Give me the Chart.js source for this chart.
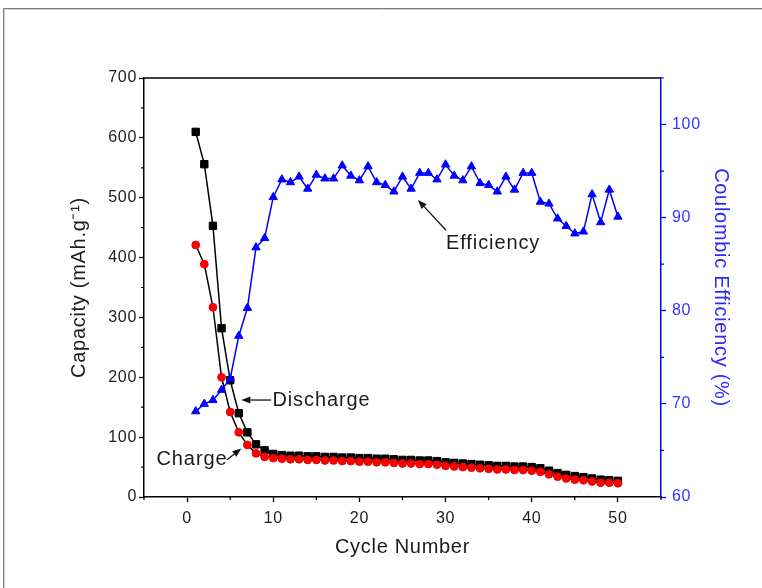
<!DOCTYPE html>
<html>
<head>
<meta charset="utf-8">
<script src="https://cdn.jsdelivr.net/npm/chart.js@4.4.1/dist/chart.umd.min.js"></script>
<style>
  html, body { margin: 0; padding: 0; background: #fff; }
  canvas { display: block; }
</style>
</head>
<body>
<canvas id="capacity-chart" width="762" height="588"></canvas>
<script>
// values
var cycles = [
  1, 2, 3, 4, 5, 6, 7, 8, 9, 10,
  11, 12, 13, 14, 15, 16, 17, 18, 19, 20,
  21, 22, 23, 24, 25, 26, 27, 28, 29, 30,
  31, 32, 33, 34, 35, 36, 37, 38, 39, 40,
  41, 42, 43, 44, 45, 46, 47, 48, 49, 50
];
var dischargeCapacity = [
  610, 556, 453, 282, 195, 140, 108, 88, 78, 72,
  70, 69, 69, 68, 68, 67, 67, 66, 66, 65,
  65, 64, 64, 63, 62, 62, 61, 61, 60, 58,
  57, 56, 55, 54, 53, 52, 52, 51, 51, 50,
  48, 44, 40, 37, 35, 33, 31, 29, 28, 27
];
var chargeCapacity = [
  421, 389, 317, 200, 142, 108, 87, 73, 67, 65,
  64, 63, 63, 62, 62, 61, 61, 60, 60, 59,
  59, 58, 58, 57, 56, 56, 55, 55, 54, 52,
  51, 50, 49, 48, 47, 46, 46, 45, 45, 44,
  42, 38, 34, 31, 29, 28, 26, 24, 24, 23
];
var coulombicEfficiency = [
  69.2, 70.0, 70.4, 71.5, 72.7, 77.3, 80.3, 86.8, 87.8, 92.2,
  94.1, 93.8, 94.4, 93.1, 94.6, 94.2, 94.2, 95.6, 94.5, 94.0,
  95.5, 93.8, 93.5, 92.8, 94.4, 93.1, 94.8, 94.8, 94.1, 95.7,
  94.5, 94.0, 95.5, 93.7, 93.5, 92.8, 94.4, 93.0, 94.8, 94.8,
  91.7, 91.5, 89.9, 89.1, 88.3, 88.5, 92.5, 89.5, 93.0, 90.1
];

var xTicks = [0, 10, 20, 30, 40, 50];
var xMinorTicks = [-5, 5, 15, 25, 35, 45, 55];
var capacityTicks = [0, 100, 200, 300, 400, 500, 600, 700];
var capacityMinorTicks = [50, 150, 250, 350, 450, 550, 650];
var efficiencyTicks = [60, 70, 80, 90, 100];
var efficiencyMinorTicks = [65, 75, 85, 95, 105];

var FONT = 'Arial, "Liberation Sans", sans-serif';
var BLUE = '#0000ff';
var TEXT = '#1c1c1c';

// callouts, placed in data units so they follow the scales
var notes = [
  { text: 'Discharge', axis: 'y', at: [9.9, 162], from: [9.75, 162], to: [6.3, 162] },
  { text: 'Charge', axis: 'y', at: [-3.55, 62], from: [4.6, 62], to: [6.3, 81] },
  { text: 'Efficiency', axis: 'y2', at: [30.05, 87.25], from: [30.05, 88.65], to: [26.8, 91.9] }
];

function toPoints(values) {
  return cycles.map(function(c, i) {
    return { x: c, y: values[i] };
  });
}

function setTicks(values) {
  return function(scale) {
    scale.ticks = values.map(function(v) { return { value: v }; });
  };
}

function drawArrow(ctx, x1, y1, x2, y2) {
  var a = Math.atan2(y2 - y1, x2 - x1);
  var head = 9, half = 3.5;
  var bx = x2 - Math.cos(a) * head, by = y2 - Math.sin(a) * head;
  ctx.beginPath();
  ctx.moveTo(x1, y1);
  ctx.lineTo(bx, by);
  ctx.stroke();
  ctx.beginPath();
  ctx.moveTo(x2, y2);
  ctx.lineTo(bx + Math.sin(a) * half, by - Math.cos(a) * half);
  ctx.lineTo(bx - Math.sin(a) * half, by + Math.cos(a) * half);
  ctx.closePath();
  ctx.fill();
}

var framePlugin = {
  id: 'frame',
  beforeDraw: function(chart) {
    var ctx = chart.ctx;
    // the original text is set a little loose
    ctx.letterSpacing = '0.7px';
    ctx.save();
    ctx.fillStyle = '#fff';
    ctx.fillRect(0, 0, chart.width, chart.height);
    ctx.lineWidth = 1;
    ctx.strokeStyle = '#7c7c7c';
    ctx.beginPath();
    ctx.moveTo(3.5, chart.height);
    ctx.lineTo(3.5, 8.5);
    ctx.lineTo(chart.width, 8.5);
    ctx.stroke();
    ctx.strokeStyle = '#d4d4d4';
    ctx.beginPath();
    ctx.moveTo(4.5, chart.height);
    ctx.lineTo(4.5, 9.5);
    ctx.lineTo(chart.width, 9.5);
    ctx.stroke();
    ctx.restore();
  }
};

var extrasPlugin = {
  id: 'extras',
  afterDraw: function(chart) {
    var ctx = chart.ctx;
    var area = chart.chartArea;
    var sx = chart.scales.x, sy = chart.scales.y, sy2 = chart.scales.y2;
    ctx.save();
    // top edge of the box
    ctx.strokeStyle = '#000';
    ctx.lineWidth = 1.5;
    ctx.beginPath();
    ctx.moveTo(area.left, area.top);
    ctx.lineTo(area.right, area.top);
    ctx.stroke();

    // minor ticks
    ctx.lineWidth = 1.2;
    ctx.beginPath();
    xMinorTicks.forEach(function(v) {
      var px = sx.getPixelForValue(v);
      ctx.moveTo(px, area.bottom);
      ctx.lineTo(px, area.bottom + 3);
    });
    capacityMinorTicks.forEach(function(v) {
      var py = sy.getPixelForValue(v);
      ctx.moveTo(area.left, py);
      ctx.lineTo(area.left - 3, py);
    });
    ctx.stroke();
    ctx.strokeStyle = BLUE;
    ctx.beginPath();
    efficiencyMinorTicks.forEach(function(v) {
      var py = sy2.getPixelForValue(v);
      ctx.moveTo(area.right, py);
      ctx.lineTo(area.right + 3, py);
    });
    ctx.stroke();

    // callouts
    ctx.font = '20px ' + FONT;
    ctx.letterSpacing = '0.9px';
    ctx.textAlign = 'left';
    ctx.textBaseline = 'middle';
    ctx.fillStyle = TEXT;
    ctx.strokeStyle = '#111';
    ctx.lineWidth = 1.3;
    notes.forEach(function(n) {
      var ys = chart.scales[n.axis];
      ctx.fillText(n.text, sx.getPixelForValue(n.at[0]), ys.getPixelForValue(n.at[1]));
      ctx.fillStyle = '#111';
      drawArrow(ctx,
        sx.getPixelForValue(n.from[0]), ys.getPixelForValue(n.from[1]),
        sx.getPixelForValue(n.to[0]), ys.getPixelForValue(n.to[1]));
      ctx.fillStyle = TEXT;
    });
    ctx.restore();
  }
};

var ctx = document.getElementById('capacity-chart').getContext('2d');
var capacityChart = new Chart(ctx, {
  type: 'line',
  data: {
    datasets: [{
      label: 'Coulombic Efficiency',
      data: toPoints(coulombicEfficiency),
      yAxisID: 'y2',
      borderColor: BLUE,
      borderWidth: 1.5,
      pointStyle: 'triangle',
      pointRadius: 4.8,
      pointBackgroundColor: BLUE,
      pointBorderColor: BLUE,
      pointBorderWidth: 1,
      order: 0
    }, {
      label: 'Charge',
      data: toPoints(chargeCapacity),
      yAxisID: 'y',
      borderColor: '#000',
      borderWidth: 1.5,
      pointStyle: 'circle',
      pointRadius: 3.9,
      pointBackgroundColor: '#ff0000',
      pointBorderColor: '#f00000',
      pointBorderWidth: 1,
      order: 1
    }, {
      label: 'Discharge',
      data: toPoints(dischargeCapacity),
      yAxisID: 'y',
      borderColor: '#000',
      borderWidth: 1.5,
      pointStyle: 'rect',
      pointRadius: 5.2,
      pointBackgroundColor: '#000',
      pointBorderColor: '#000',
      pointBorderWidth: 1,
      order: 2
    }]
  },
  options: {
    responsive: false,
    animation: false,
    layout: { padding: { top: 78, left: 0, right: 0, bottom: 0 } },
    scales: {
      x: {
        type: 'linear',
        min: -5,
        max: 55,
        afterBuildTicks: setTicks(xTicks),
        afterFit: function(scale) { scale.height = 91; },
        grid: { drawOnChartArea: false, tickLength: 5, color: '#000', tickWidth: 1.3 },
        border: { color: '#000', width: 1.5 },
        ticks: { color: TEXT, font: { family: FONT, size: 16 }, padding: 7, maxRotation: 0 },
        title: {
          display: true,
          text: 'Cycle Number',
          color: TEXT,
          font: { family: FONT, size: 20 },
          padding: { top: 0, bottom: 29 }
        }
      },
      y: {
        position: 'left',
        min: 0,
        max: 700,
        afterBuildTicks: setTicks(capacityTicks),
        afterFit: function(scale) { scale.width = 144; },
        grid: { drawOnChartArea: false, tickLength: 5, color: '#000', tickWidth: 1.3 },
        border: { color: '#000', width: 1.5 },
        ticks: { color: TEXT, font: { family: FONT, size: 16 }, padding: 2 },
        title: {
          display: true,
          text: 'Capacity (mAh.g\u207B\u00B9)',
          color: TEXT,
          font: { family: FONT, size: 20 },
          padding: { top: 67, bottom: 0 }
        }
      },
      y2: {
        position: 'right',
        min: 60,
        max: 105,
        afterBuildTicks: setTicks(efficiencyTicks),
        afterFit: function(scale) { scale.width = 101; },
        grid: { drawOnChartArea: false, tickLength: 5, color: BLUE, tickWidth: 1.3 },
        border: { color: BLUE, width: 1.5 },
        ticks: { color: '#3434ff', font: { family: FONT, size: 16 }, padding: 6 },
        title: {
          display: true,
          text: 'Coulombic Efficiency (%)',
          color: '#2a2aff',
          font: { family: FONT, size: 20 },
          padding: { top: 29, bottom: 0 }
        }
      }
    },
    plugins: {
      legend: { display: false },
      tooltip: { enabled: false }
    }
  },
  plugins: [framePlugin, extrasPlugin]
});
</script>
</body>
</html>
